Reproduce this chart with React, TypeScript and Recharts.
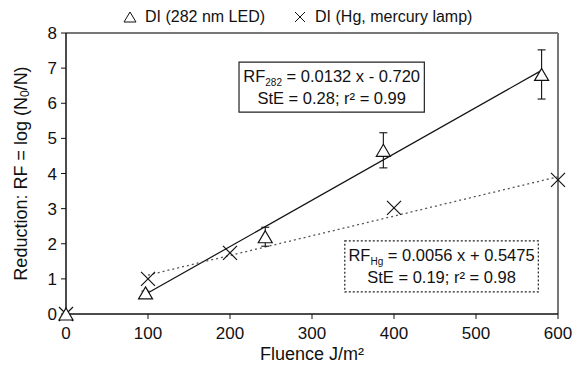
import React from 'react';
import {
  ComposedChart,
  Scatter,
  Line,
  XAxis,
  YAxis,
  ErrorBar,
  ReferenceLine,
  ReferenceArea,
} from 'recharts';

// DI with 282 nm LED (triangles, with error bars)
const ledFluence = [0, 97, 243, 387, 580];
const ledReduction = [0, 0.6, 2.2, 4.66, 6.82];
const ledError = [0, 0.05, 0.27, 0.5, 0.7];

// DI with Hg mercury lamp (crosses)
const hgFluence = [0, 100, 200, 400, 600];
const hgReduction = [0, 1.0, 1.74, 3.02, 3.82];

// linear fits as printed in the boxes
const ledFit = { slope: 0.0132, intercept: -0.72, from: 97, to: 580 };
const hgFit = { slope: 0.0056, intercept: 0.5475, from: 100, to: 600 };

const xTicks = [0, 100, 200, 300, 400, 500, 600];
const yTicks = [0, 1, 2, 3, 4, 5, 6, 7, 8];

const FONT = '"Liberation Sans", Arial, Helvetica, sans-serif';

const ledData = ledFluence.map((x, i) => ({ x, y: ledReduction[i], err: ledError[i] }));
const hgData = hgFluence.map((x, i) => ({ x, y: hgReduction[i] }));
const fitLine = (f: typeof ledFit) =>
  [f.from, f.to].map((x) => ({ x, y: f.slope * x + f.intercept }));

const Triangle = (props: any) => {
  const { cx, cy } = props;
  if (cx == null || cy == null) return null;
  return (
    <path
      d={`M${cx},${cy - 6} L${cx + 7},${cy + 6} L${cx - 7},${cy + 6} Z`}
      fill="#fff"
      stroke="#111"
      strokeWidth={1.2}
    />
  );
};

const Cross = (props: any) => {
  const { cx, cy } = props;
  if (cx == null || cy == null) return null;
  return (
    <path
      d={`M${cx - 7},${cy - 7} L${cx + 7},${cy + 7} M${cx + 7},${cy - 7} L${cx - 7},${cy + 7}`}
      stroke="#111"
      strokeWidth={1.2}
      fill="none"
    />
  );
};

const boxText = (first: string, sub: string, rest: string, second: string) => (props: any) => {
  const vb = props.viewBox || {};
  const cx = vb.x + vb.width / 2;
  const top = vb.y;
  return (
    <g fontFamily={FONT} fontSize={16.5} fill="#111">
      <text x={cx} y={top + 20} textAnchor="middle">
        {first}
        <tspan fontSize={10} dy={4}>{sub}</tspan>
        <tspan dy={-4}>{rest}</tspan>
      </text>
      <text x={cx} y={top + 42} textAnchor="middle">
        {second}
      </text>
    </g>
  );
};

export default function App() {
  return (
    <div style={{ position: 'fixed', left: 0, top: 0, width: 576, height: 371, background: '#fff' }}>
      {/* Legend */}
      <div
        style={{
          position: 'absolute',
          top: 8,
          left: 123,
          display: 'flex',
          alignItems: 'center',
          fontFamily: FONT,
          fontSize: 16,
          color: '#111',
          whiteSpace: 'nowrap',
        }}
      >
        <svg width={14} height={14} style={{ marginRight: 8 }}>
          <path d="M7,2 L13,12 L1,12 Z" fill="none" stroke="#111" strokeWidth={1} />
        </svg>
        <span>DI (282 nm LED)</span>
        <svg width={14} height={14} style={{ marginLeft: 28, marginRight: 8 }}>
          <path d="M2,2 L12,12 M12,2 L2,12" stroke="#111" strokeWidth={1} />
        </svg>
        <span>DI (Hg, mercury lamp)</span>
      </div>

      <ComposedChart
        width={576}
        height={371}
        margin={{ top: 33, right: 18, left: 26, bottom: 27 }}
        style={{ position: 'absolute', left: 0, top: 0 }}
      >
        <XAxis
          dataKey="x"
          type="number"
          domain={[0, 600]}
          ticks={xTicks}
          height={30}
          tickSize={5}
          tickMargin={8}
          axisLine={{ stroke: '#111', strokeWidth: 1.5 }}
          tickLine={{ stroke: '#111' }}
          tick={{ fill: '#111', fontSize: 17, fontFamily: FONT }}
          label={(p: any) => {
            const vb = p.viewBox || {};
            return (
              <text x={vb.x + vb.width / 2} y={360} textAnchor="middle" fontFamily={FONT} fontSize={18} fill="#111">
                Fluence J/m²
              </text>
            );
          }}
        />
        <YAxis
          dataKey="y"
          type="number"
          domain={[0, 8]}
          ticks={yTicks}
          width={40}
          tickSize={5}
          tickMargin={4}
          axisLine={{ stroke: '#111', strokeWidth: 1.5 }}
          tickLine={{ stroke: '#111' }}
          tick={{ fill: '#111', fontSize: 17, fontFamily: FONT }}
          label={(p: any) => {
            const vb = p.viewBox || {};
            const cy = vb.y + vb.height / 2;
            return (
              <text
                x={21}
                y={cy}
                transform={`rotate(-90, 21, ${cy})`}
                textAnchor="middle"
                dominantBaseline="central"
                fontFamily={FONT}
                fontSize={18}
                fill="#111"
              >
                Reduction: RF = log (N
                <tspan fontSize={12} dy={4}>0</tspan>
                <tspan dy={-4}>/N)</tspan>
              </text>
            );
          }}
        />

        {/* frame top / right */}
        <ReferenceLine y={8} stroke="#777" strokeWidth={2} />
        <ReferenceLine x={600} stroke="#777" strokeWidth={2} />

        {/* equation boxes */}
        <ReferenceArea
          x1={211}
          x2={437}
          y1={5.75}
          y2={7.17}
          fill="#fff"
          fillOpacity={1}
          stroke="#222"
          strokeWidth={1.2}
          label={boxText('RF', '282', ' = 0.0132 x - 0.720', 'StE = 0.28; r² = 0.99')}
        />
        <ReferenceArea
          x1={340}
          x2={576}
          y1={0.63}
          y2={2.08}
          fill="#fff"
          fillOpacity={1}
          stroke="#222"
          strokeWidth={1.2}
          strokeDasharray="2 2"
          label={boxText('RF', 'Hg', ' = 0.0056 x + 0.5475', 'StE = 0.19; r² = 0.98')}
        />

        {/* fitted lines */}
        <Line
          data={fitLine(ledFit)}
          dataKey="y"
          type="linear"
          stroke="#111"
          strokeWidth={1.2}
          dot={false}
          activeDot={false}
          isAnimationActive={false}
        />
        <Line
          data={fitLine(hgFit)}
          dataKey="y"
          type="linear"
          stroke="#555"
          strokeWidth={1.3}
          strokeDasharray="2 3"
          dot={false}
          activeDot={false}
          isAnimationActive={false}
        />

        <Scatter data={hgData} dataKey="y" shape={<Cross />} isAnimationActive={false} />
        <Scatter data={ledData} dataKey="y" shape={<Triangle />} isAnimationActive={false}>
          <ErrorBar dataKey="err" direction="y" width={4} stroke="#111" strokeWidth={1.1} />
        </Scatter>
      </ComposedChart>
    </div>
  );
}
